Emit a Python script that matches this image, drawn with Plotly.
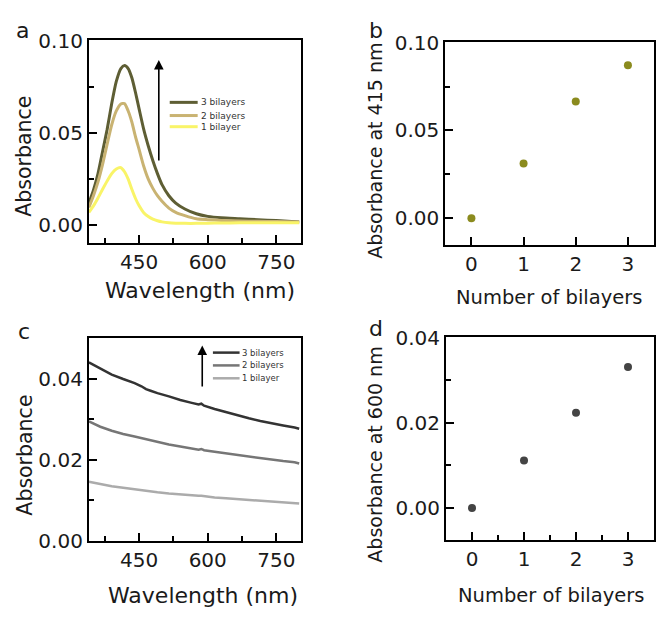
import plotly.graph_objects as go

# ---------------- data ----------------
wl_a = [340, 350, 360, 370, 380, 390, 400, 410, 418, 426, 434, 442, 450, 460, 470, 480,
        490, 500, 515, 530, 550, 575, 600, 630, 670, 710, 750, 800]
abs_a_3 = [0.012, 0.019, 0.028, 0.040, 0.052, 0.066, 0.078, 0.085, 0.0866, 0.085, 0.080, 0.072,
           0.063, 0.052, 0.043, 0.035, 0.028, 0.022, 0.016, 0.012, 0.0088, 0.0062, 0.0048,
           0.0040, 0.0035, 0.0030, 0.0025, 0.0018]
abs_a_2 = [0.0096, 0.016, 0.0235, 0.033, 0.044, 0.0545, 0.062, 0.0658, 0.066, 0.062, 0.056, 0.048,
           0.041, 0.032, 0.025, 0.020, 0.016, 0.013, 0.0093, 0.007, 0.0052, 0.0035, 0.0030,
           0.0026, 0.0023, 0.0021, 0.0020, 0.0018]
abs_a_1 = [0.007, 0.0105, 0.0148, 0.0195, 0.024, 0.028, 0.0305, 0.0312, 0.029, 0.025, 0.0195, 0.0145,
           0.0105, 0.0068, 0.0047, 0.0033, 0.0024, 0.0018, 0.0013, 0.0011, 0.0010, 0.0010, 0.0011,
           0.0012, 0.0013, 0.0013, 0.0014, 0.0014]

wl_c = [340, 365, 390, 415, 440, 455, 465, 475, 490, 515, 540, 565, 580, 586, 592, 615, 640, 665,
        690, 715, 740, 765, 790, 800]
abs_c_3 = [0.0441, 0.0425, 0.0411, 0.0400, 0.0390, 0.0382, 0.0375, 0.0371, 0.0365, 0.0357, 0.0348,
           0.0341, 0.0337, 0.0339, 0.0334, 0.0326, 0.0318, 0.0311, 0.0303, 0.0296, 0.0290, 0.0285,
           0.0280, 0.0277]
abs_c_2 = [0.0295, 0.0282, 0.0272, 0.0264, 0.0258, 0.0254, 0.0250, 0.0247, 0.0244, 0.0238, 0.0233,
           0.0228, 0.0225, 0.0227, 0.0224, 0.0220, 0.0216, 0.0212, 0.0208, 0.0204, 0.0200, 0.0197,
           0.0194, 0.0191]
abs_c_1 = [0.0146, 0.0140, 0.0135, 0.0131, 0.0127, 0.0125, 0.0123, 0.0122, 0.0120, 0.0117, 0.0114,
           0.0112, 0.0111, 0.0111, 0.0110, 0.0107, 0.0105, 0.0103, 0.0101, 0.0099, 0.0097, 0.0095,
           0.0093, 0.0092]

bilayers = [0, 1, 2, 3]
abs_415 = [0.0, 0.0312, 0.0666, 0.0872]
abs_600 = [0.0, 0.0112, 0.0224, 0.0331]

legend_labels = ["3 bilayers", "2 bilayers", "1 bilayer"]
colors_a = ["#5e5e34", "#c9b372", "#f9f468"]
colors_c = ["#333333", "#767676", "#ababab"]

FONT = "DejaVu Sans, Arial, sans-serif"
TXT = "#1a1a1a"

fig = go.Figure()

for ys, col, name in zip([abs_a_3, abs_a_2, abs_a_1], colors_a, legend_labels):
    fig.add_trace(go.Scatter(x=wl_a, y=ys, mode="lines", name=name,
                             line=dict(color=col, width=3, shape="spline", smoothing=0.6),
                             xaxis="x", yaxis="y", showlegend=False))
fig.add_trace(go.Scatter(x=bilayers, y=abs_415, mode="markers", marker=dict(color="#8b8b1e", size=8),
                         xaxis="x2", yaxis="y2", showlegend=False))
for ys, col, name in zip([abs_c_3, abs_c_2, abs_c_1], colors_c, legend_labels):
    fig.add_trace(go.Scatter(x=wl_c, y=ys, mode="lines", name=name, line=dict(color=col, width=2.5),
                             xaxis="x3", yaxis="y3", showlegend=False))
fig.add_trace(go.Scatter(x=bilayers, y=abs_600, mode="markers", marker=dict(color="#444444", size=8),
                         xaxis="x4", yaxis="y4", showlegend=False))

W, H = 656, 621

def dom_x(l, r):
    return [l / W, r / W]

def dom_y(top, bot):
    return [1 - bot / H, 1 - top / H]

axis_common = dict(showline=True, linewidth=2, linecolor="black", mirror=True, ticks="inside",
                   ticklen=8, tickwidth=2, tickcolor="black", showgrid=False, zeroline=False,
                   tickfont=dict(family=FONT, size=20, color=TXT))

def minor(d):
    return dict(ticks="inside", dtick=d, ticklen=5, tickwidth=2, tickcolor="black", showgrid=False)

fig.update_layout(
    width=W, height=H, margin=dict(l=0, r=0, t=0, b=0),
    plot_bgcolor="white", paper_bgcolor="white", showlegend=False,
    xaxis=dict(domain=dom_x(89, 301), range=[340, 803], tick0=0, dtick=150, minor=minor(75), anchor="y", **axis_common),
    yaxis=dict(domain=dom_y(29.5, 240), range=[-0.0095, 0.1003], tick0=0, dtick=0.05, tickformat=".2f",
               minor=minor(0.025), anchor="x", **axis_common),
    xaxis2=dict(domain=dom_x(446, 655), range=[-0.5, 3.5], tick0=0, dtick=1, anchor="y2", **axis_common),
    yaxis2=dict(domain=dom_y(31.7, 242.7), range=[-0.0155, 0.1002], tick0=0, dtick=0.05, tickformat=".2f",
                minor=minor(0.025), anchor="x2", **axis_common),
    xaxis3=dict(domain=dom_x(89, 301), range=[340, 803], tick0=0, dtick=150, minor=minor(75), anchor="y3", **axis_common),
    yaxis3=dict(domain=dom_y(339.3, 550), range=[0, 0.0501], tick0=0, dtick=0.02, tickformat=".2f",
                minor=minor(0.01), anchor="x3", **axis_common),
    xaxis4=dict(domain=dom_x(446.7, 655), range=[-0.5, 3.5], tick0=0, dtick=1, minor=minor(0.5), anchor="y4", **axis_common),
    yaxis4=dict(domain=dom_y(338.3, 549.3), range=[-0.0075, 0.0401], tick0=0, dtick=0.02, tickformat=".2f",
                minor=minor(0.01), anchor="x4", **axis_common),
)

ann = []
def text(x, y, s, size=21, xanchor="center", yanchor="middle", angle=0, color=TXT, xref="paper", yref="paper"):
    ann.append(dict(x=x, y=y, xref=xref, yref=yref, text=s, showarrow=False, xanchor=xanchor, yanchor=yanchor,
                    textangle=angle, font=dict(family=FONT, size=size, color=color)))

def px(xp, yp):
    return xp / W, 1 - yp / H

# axis titles
for (cx, cy), s, sz in [((200, 290), "Wavelength (nm)", 22), ((550, 297), "Number of bilayers", 19.5),
                        ((203, 607), "Wavelength (nm)", 22), ((552, 607), "Number of bilayers", 19.5)]:
    x, y = px(cx, cy)
    text(x, y, s, size=sz)
for (cx, cy), s, sz in [((24.5, 150), "Absorbance", 20.5), ((376, 144), "Absorbance at 415 nm", 19),
                        ((25.5, 461), "Absorbance", 20.5), ((376, 460), "Absorbance at 600 nm", 19)]:
    x, y = px(cx, cy)
    text(x, y, s, size=sz, angle=-90)

# panel letters
for (cx, cy), s in [((23, 19), "a"), ((377, 19), "b"), ((24, 332), "c"), ((377, 329), "d")]:
    x, y = px(cx, cy)
    text(x, y, s, size=22)

# arrows
ann.append(dict(x=493, y=0.0897, ax=493, ay=0.0343, xref="x", yref="y", axref="x", ayref="y", text="",
                showarrow=True, arrowhead=2, arrowsize=1.2, arrowwidth=1.6, arrowcolor="black"))
ann.append(dict(x=588, y=0.0483, ax=588, ay=0.0378, xref="x3", yref="y3", axref="x3", ayref="y3", text="",
                showarrow=True, arrowhead=2, arrowsize=1.2, arrowwidth=1.6, arrowcolor="black"))

# custom legends
shapes = []
leg_a_y = [0.6936, 0.6285, 0.5734]
for yy, col, name in zip(leg_a_y, colors_a, legend_labels):
    shapes.append(dict(type="line", xref="x domain", yref="y domain", x0=0.382, x1=0.514, y0=yy, y1=yy,
                       line=dict(color=col, width=3)))
    text(0.518, yy, name, size=9, xanchor="left", color="#333333", xref="x domain", yref="y domain")
leg_c_y = [0.9288, 0.8656, 0.8020]
for yy, col, name in zip(leg_c_y, colors_c, legend_labels):
    shapes.append(dict(type="line", xref="x3 domain", yref="y3 domain", x0=0.586, x1=0.712, y0=yy, y1=yy,
                       line=dict(color=col, width=2.5)))
    text(0.714, yy, name, size=8.5, xanchor="left", color="#333333", xref="x3 domain", yref="y3 domain")

fig.update_layout(annotations=ann, shapes=shapes)
fig.write_html("out.html", post_script="document.body.style.margin='0px';",
               config={"displayModeBar": False})
